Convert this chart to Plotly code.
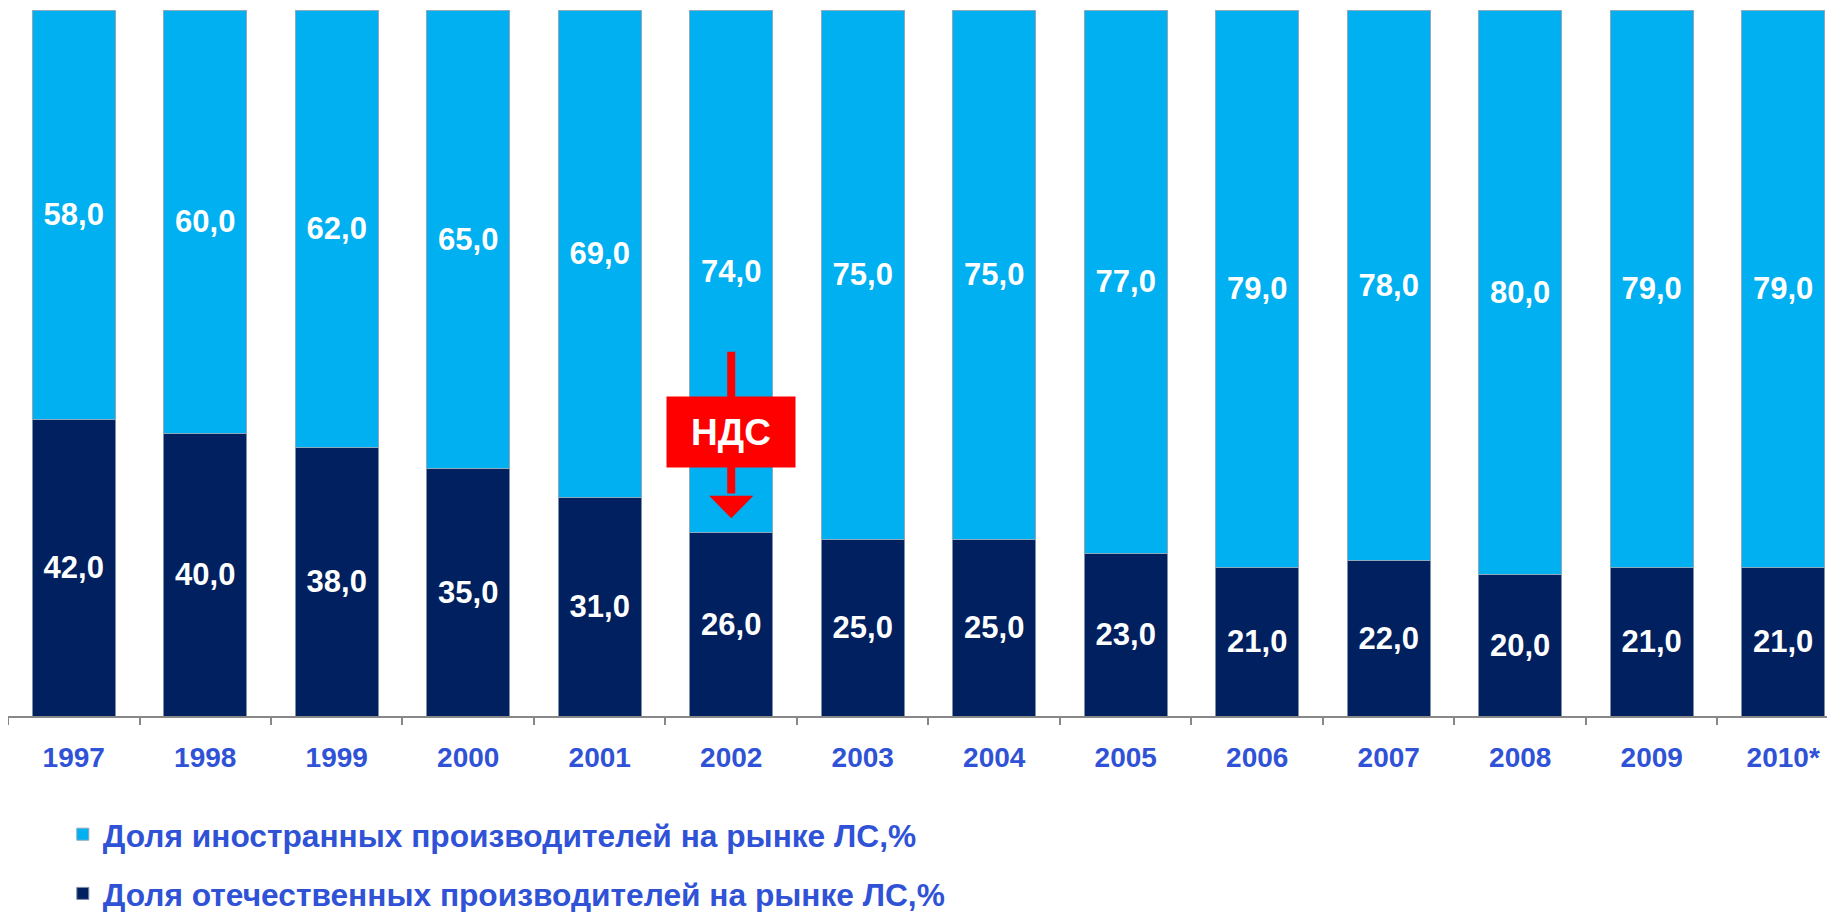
import plotly.graph_objects as go

years = ["1997", "1998", "1999", "2000", "2001", "2002", "2003", "2004",
         "2005", "2006", "2007", "2008", "2009", "2010*"]
foreign = [58.0, 60.0, 62.0, 65.0, 69.0, 74.0, 75.0, 75.0, 77.0, 79.0, 78.0, 80.0, 79.0, 79.0]
domestic = [42.0, 40.0, 38.0, 35.0, 31.0, 26.0, 25.0, 25.0, 23.0, 21.0, 22.0, 20.0, 21.0, 21.0]

name_foreign = "Доля иностранных производителей на рынке ЛС,%"
name_domestic = "Доля отечественных производителей на рынке ЛС,%"

LIGHT = "#00B0F0"
DARK = "#002060"
BLUE_TXT = "#2F52D6"
FONT = "Liberation Sans, Arial, sans-serif"

def fmt(v):
    return f"{v:.1f}".replace(".", ",")

fig = go.Figure()
fig.add_trace(go.Bar(
    x=years, y=domestic, name=name_domestic, legendgroup="d", legendrank=2,
    marker=dict(color=DARK, line=dict(color="#7F8FA6", width=1)),
    text=[fmt(v) for v in domestic], textposition="inside",
    insidetextanchor="middle", textangle=0,
    textfont=dict(color="white", size=31, family=FONT, weight="bold"),
))
fig.add_trace(go.Bar(
    x=years, y=foreign, name=name_foreign, legendgroup="f", legendrank=1,
    marker=dict(color=LIGHT, line=dict(color="#8FA9BC", width=1)),
    text=[fmt(v) for v in foreign], textposition="inside",
    insidetextanchor="middle", textangle=0,
    textfont=dict(color="white", size=31, family=FONT, weight="bold"),
))

# НДС marker over 2002
idx = years.index("2002")
fig.add_shape(type="line", xref="x", yref="y", x0=idx, x1=idx, y0=51.6, y1=31.5,
              line=dict(color="#FF0000", width=8), layer="above")
fig.add_shape(type="path", xref="x", yref="y",
              path=f"M {idx-0.168},31.2 L {idx+0.168},31.2 L {idx},28.0 Z",
              fillcolor="#FF0000", line=dict(color="#FF0000", width=0), layer="above")
fig.add_annotation(x=idx, y=40.2, xref="x", yref="y", text="НДС", showarrow=False,
                   bgcolor="#FF0000", width=120, height=62, borderpad=4,
                   font=dict(color="white", size=37, family=FONT, weight="bold"))

fig.update_layout(
    barmode="stack", bargap=0.37,
    width=1827, height=904,
    margin=dict(l=0, r=0, t=2, b=196, autoexpand=False),
    plot_bgcolor="white", paper_bgcolor="white",
    showlegend=True,
    legend=dict(
        x=0.030, xanchor="left", y=-0.129, yanchor="top",
        orientation="v", traceorder="grouped", tracegroupgap=15,
        font=dict(size=31.7, color=BLUE_TXT, family=FONT, weight="bold"),
        bgcolor="rgba(0,0,0,0)",
    ),
    xaxis=dict(
        type="category", range=[-0.5, 13.394], tickson="boundaries",
        ticks="outside", ticklen=7, tickcolor="#888888", tickwidth=1.5,
        showline=True, linecolor="#888888", linewidth=1.5,
        showgrid=False, ticklabelstandoff=16,
        tickfont=dict(size=28, color=BLUE_TXT, family=FONT, weight="bold"),
    ),
    yaxis=dict(range=[0, 100], visible=False, showgrid=False),
)

fig.write_html("out.html")
